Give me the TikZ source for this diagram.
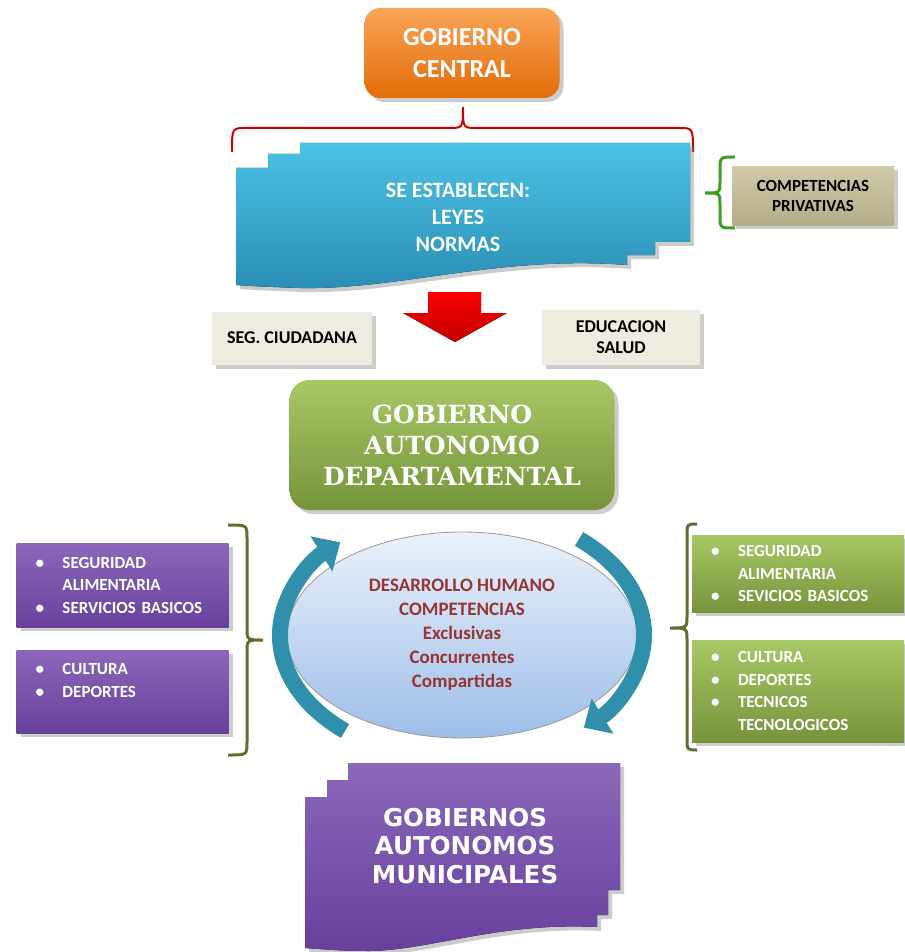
\documentclass[tikz,border=0pt]{standalone}
\usepackage{fontspec}
\setmainfont{Carlito}[BoldFont={Carlito Bold}]
\newfontfamily\gadfont{DejaVu Serif Bold}
\newfontfamily\munfont{DejaVu Sans Bold}
\usetikzlibrary{shapes.geometric, arrows.meta, shadows, calc}

\definecolor{orgA}{HTML}{F8A558}
\definecolor{orgB}{HTML}{E36C09}
\definecolor{bluA}{HTML}{4CC2E4}
\definecolor{bluB}{HTML}{2A8DB4}
\definecolor{grnA}{HTML}{A8C866}
\definecolor{grnB}{HTML}{76933A}
\definecolor{purA}{HTML}{8B68BA}
\definecolor{purB}{HTML}{67409C}
\definecolor{tealarr}{HTML}{3090AC}
\definecolor{tan}{HTML}{C7C09A}
\definecolor{paper}{HTML}{EEECE1}
\definecolor{wine}{HTML}{943634}
\definecolor{olivebr}{HTML}{5C7130}
\definecolor{ellA}{HTML}{EBF1FA}
\definecolor{ellB}{HTML}{9EBEE8}

\newcommand{\itm}[1]{\makebox[17pt][l]{\hspace{3.5pt}\textbullet}#1}
\newcommand{\cnt}[1]{\hspace*{17pt}#1}

\begin{document}
\begin{tikzpicture}[x=0.5pt, y=-0.5pt, font=\bfseries,
    shadowed/.style={drop shadow={opacity=0.4, shadow xshift=2pt, shadow yshift=-2pt}},
    lightbox/.style={shadowed, fill=paper, text=black, align=center,
        font=\bfseries\fontsize{9}{10.5}\selectfont},
    listbox/.style={shadowed, text=white, text width=94pt, inner xsep=6pt, align=left,
        font=\bfseries\fontsize{8.5}{11.25}\selectfont},
    purplebox/.style={listbox, top color=purA, bottom color=purB},
    greenbox/.style={listbox, top color=grnA, bottom color=grnB},
    curly/.style={line width=1.5pt, olivebr},
    turn/.style={tealarr, line width=8pt, -{Triangle[length=11pt, width=20pt]}}]

    \useasboundingbox (0,0) rectangle (904,952);

    \node[shadowed, rounded corners=8pt, minimum width=97.5pt, minimum height=45pt,
        top color=orgA, bottom color=orgB, text=white, align=center,
        font=\bfseries\fontsize{13}{16}\selectfont] (central) at (462,53) {GOBIERNO\\CENTRAL};

    \draw[red!80!black, line width=1pt] (232,152) .. controls (232,128) .. (246,128) -- (449,128)
        .. controls (463,128) .. (463,107) .. controls (463,128) .. (477,128) -- (679,128)
        .. controls (693,128) .. (693,152);

    \fill[shadowed, top color=bluA, bottom color=bluB] (236,168) -- (268,168) -- (268,154)
        -- (300,154) -- (300,143) -- (690,143) -- (690,242) -- (655,242) -- (655,255)
        -- (627,255) -- (627,265) .. controls (500,255) and (400,290) .. (300,288)
        .. controls (270,287) and (250,286) .. (236,285) -- cycle;
    \node[text=white, align=center, font=\bfseries\fontsize{11}{13.5}\selectfont]
        (normas) at (458,217) {SE ESTABLECEN:\\LEYES\\NORMAS};

    \draw[curly, olivebr!70!green] (735,157) .. controls (720,157) .. (720,170) -- (720,181)
        .. controls (720,193) .. (705,193) .. controls (720,193) .. (720,205) -- (720,216)
        .. controls (720,228) .. (735,228);
    \node[shadowed, top color=tan!85!white, bottom color=tan!90!black, minimum width=81pt,
        minimum height=29.5pt, align=center, font=\bfseries\fontsize{8.5}{10}\selectfont]
        (privativas) at (813,196) {COMPETENCIAS\\PRIVATIVAS};

    \fill[top color=red, bottom color=red!75!black] (428,292) -- (481,292) -- (481,313)
        -- (507,313) -- (455,342) -- (403,313) -- (428,313) -- cycle;

    \node[lightbox, minimum width=80pt, minimum height=26.5pt] (seg) at (292,338) {SEG. CIUDADANA};
    \node[lightbox, minimum width=79pt, minimum height=27.5pt] (edu) at (621,337) {EDUCACION\\SALUD};

    \node[shadowed, rounded corners=10pt, minimum width=162.5pt, minimum height=65pt,
        top color=grnA, bottom color=grnB, text=white, align=center,
        font=\gadfont\fontsize{12.5}{15.5}\selectfont]
        (gad) at (452,445) {GOBIERNO\\AUTONOMO\\DEPARTAMENTAL};

    \node[ellipse, draw=gray!80, thin, minimum width=175pt, minimum height=103pt,
        top color=ellA, bottom color=ellB, text=wine, align=center,
        font=\bfseries\fontsize{9.5}{12}\selectfont]
        (ell) at (462,635) {DESARROLLO HUMANO\\COMPETENCIAS\\Exclusivas\\Concurrentes\\Compartidas};

    \draw[turn] (345,731) arc[start angle=130, end angle=228, x radius=182, y radius=125];
    \draw[turn] (579,539) arc[start angle=-50, end angle=48, x radius=182, y radius=125];

    \draw[curly] (228,525) .. controls (247,525) .. (247,538) -- (247,628)
        .. controls (247,640) .. (263,640) .. controls (247,640) .. (247,652) -- (247,742)
        .. controls (247,755) .. (228,755);
    \node[purplebox, minimum height=42pt] (pa) at (122.5,585)
        {\itm{SEGURIDAD}\\\cnt{ALIMENTARIA}\\\itm{SERVICIOS BASICOS}};
    \node[purplebox, minimum height=41.5pt] (pb) at (122.5,691.5)
        {\itm{CULTURA}\\\itm{DEPORTES}\\\mbox{}};

    \draw[curly] (697,524) .. controls (687,524) .. (687,536) -- (687,616)
        .. controls (687,628) .. (670,628) .. controls (687,628) .. (687,640) -- (687,738)
        .. controls (687,750) .. (697,750);
    \node[greenbox, minimum height=38.5pt] (ga) at (798,573.5)
        {\itm{SEGURIDAD}\\\cnt{ALIMENTARIA}\\\itm{SEVICIOS BASICOS}};
    \node[greenbox, minimum height=51pt] (gb) at (798,691)
        {\itm{CULTURA}\\\itm{DEPORTES}\\\itm{TECNICOS}\\\cnt{TECNOLOGICOS}};

    \fill[shadowed, top color=purA, bottom color=purB] (305,797) -- (327,797) -- (327,780)
        -- (348,780) -- (348,763) -- (620,763) -- (620,890) -- (608,890) -- (608,915)
        -- (597,915) -- (597,927) .. controls (500,922) and (430,950) .. (370,951)
        .. controls (340,951) and (320,949) .. (305,948) -- cycle;
    \node[text=white, align=center, font=\munfont\fontsize{12.3}{14.25}\selectfont]
        (mun) at (465,846) {GOBIERNOS\\AUTONOMOS\\MUNICIPALES};
\end{tikzpicture}
\end{document}
